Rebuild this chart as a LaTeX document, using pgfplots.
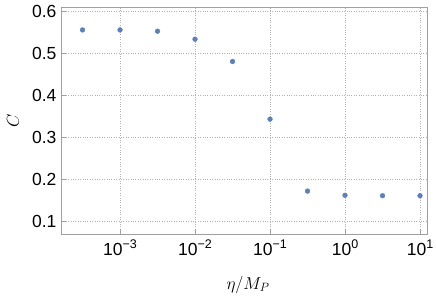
\documentclass[border=0pt]{standalone}
\usepackage{fontspec}
\usepackage{pgfplots}
\pgfplotsset{compat=1.18}
\newfontfamily\arialfont{Liberation Sans}
\definecolor{mmablue}{RGB}{94,129,181}
\definecolor{framegray}{RGB}{160,160,160}
\newcommand{\tl}[1]{10\raisebox{0.42em}{\fontsize{12.5}{12.5}\selectfont #1}}
\begin{document}
\begin{tikzpicture}
\begin{axis}[
  name=ax,
  scale only axis,
  width=366pt, height=227pt,
  xmode=log,
  xmin=1.633e-4, xmax=12.39,
  ymin=0.07, ymax=0.6095,
  axis line style={framegray, line width=0.6pt},
  tick style={framegray, line width=0.6pt},
  tick align=inside,
  major tick length=5pt,
  minor tick num=0,
  xminorticks=false,
  xtick={1e-3,1e-2,1e-1,1,10},
  xticklabels={\tl{−3},\tl{−2},\tl{−1},\tl{0},\tl{1}},
  ytick={0.1,0.2,0.3,0.4,0.5,0.6},
  yticklabels={0.1,0.2,0.3,0.4,0.5,0.6},
  ticklabel style={font=\arialfont\fontsize{17.5}{18}\selectfont},
  xticklabel style={yshift=-2pt},
  yticklabel style={xshift=-1pt},
  xtick pos=bottom, ytick pos=left,
  grid=major,
  grid style={dotted, gray!60, line width=0.6pt},
  xlabel={$\eta/M_P$},
  ylabel={$C$},
  label style={font=\fontsize{17}{17}\selectfont},
  xlabel style={at={(rel axis cs:0.5,0)}, anchor=center, yshift=-51pt, xshift=4pt},
  ylabel style={at={(rel axis cs:0,0.5)}, anchor=center, yshift=48pt},
]
\addplot[only marks, mark=*, mark size=2.4pt, mmablue, mark options={draw=mmablue, fill=mmablue}] coordinates {
(3.1623e-4,0.555)
(1e-3,0.555)
(3.1623e-3,0.552)
(1e-2,0.533)
(3.1623e-2,0.480)
(1e-1,0.343)
(3.1623e-1,0.172)
(1,0.162)
(3.1623,0.161)
(10,0.161)
};
\end{axis}
\pgfresetboundingbox
\path[use as bounding box] ([xshift=-61pt,yshift=-61pt]ax.south west) rectangle ([xshift=9pt,yshift=7pt]ax.north east);
\end{tikzpicture}
\end{document}
